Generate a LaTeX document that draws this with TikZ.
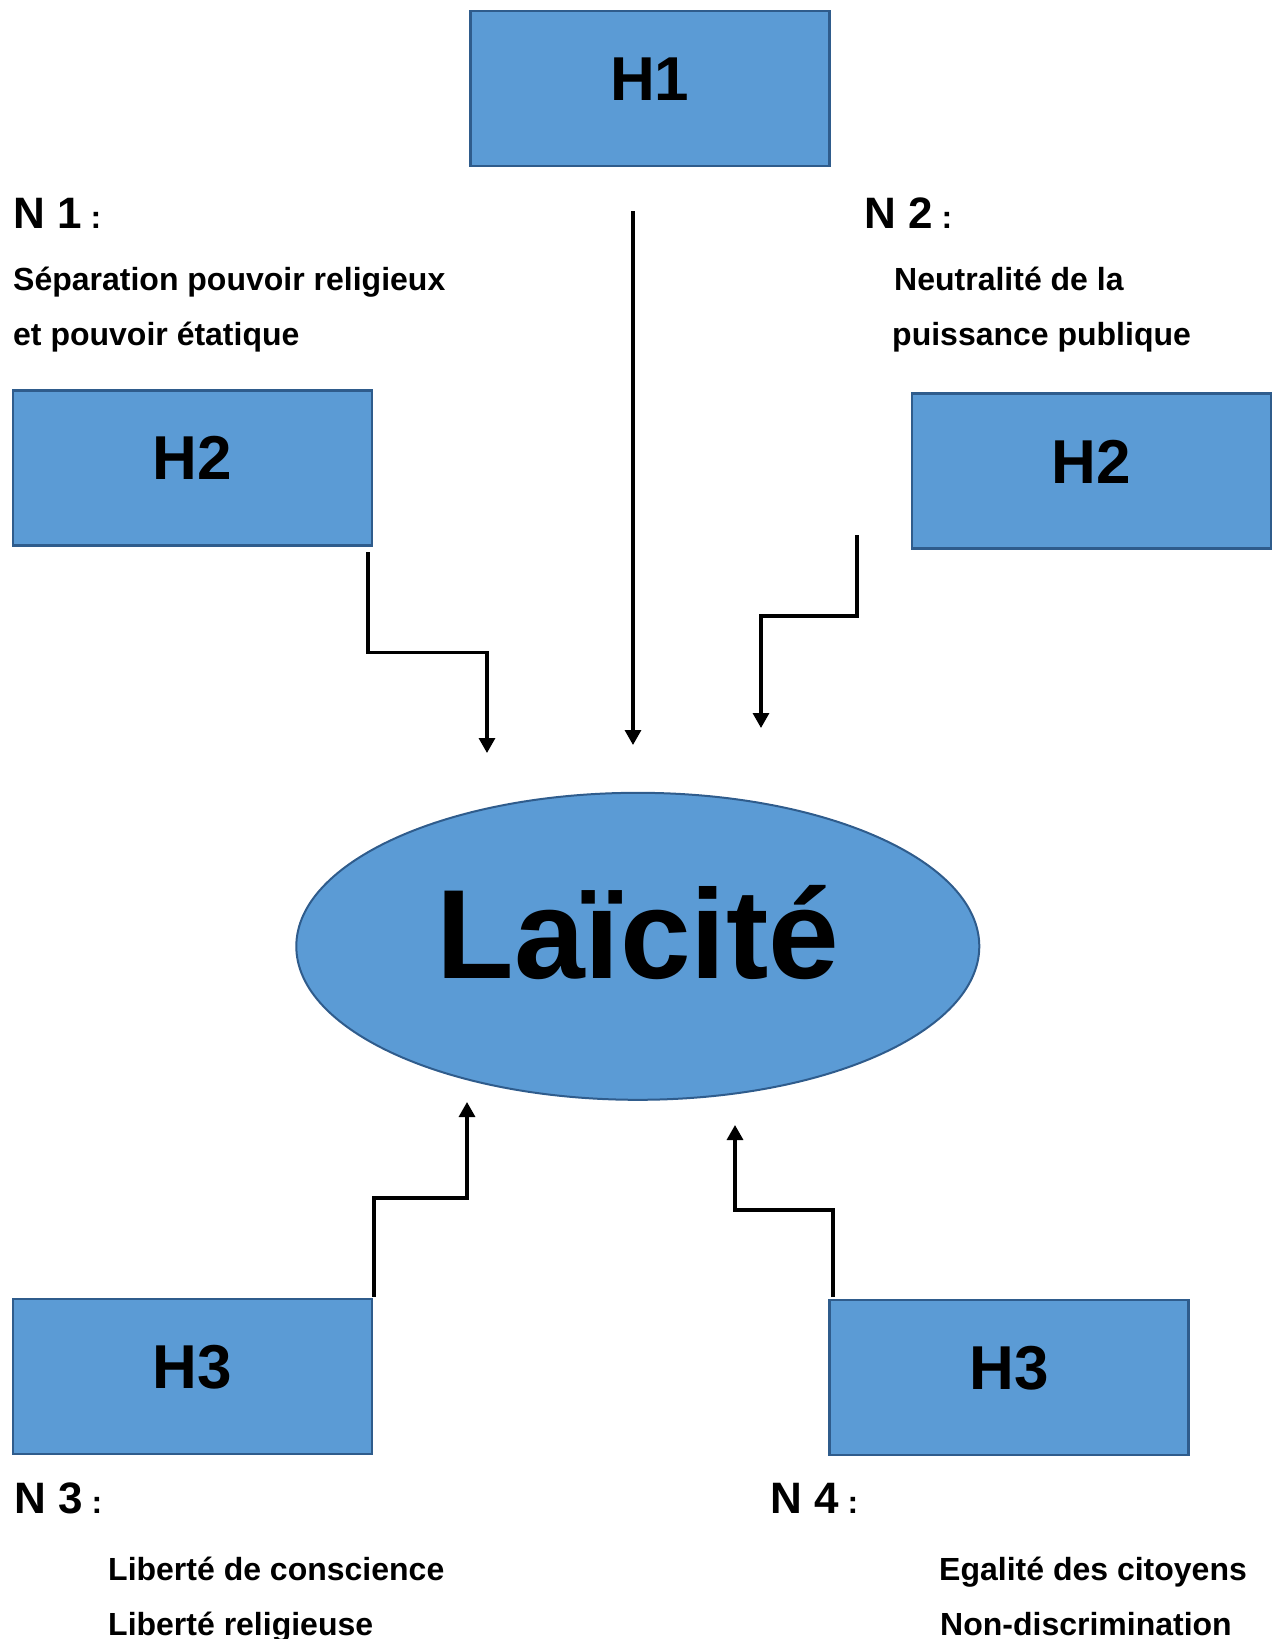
\documentclass[tikz,border=0pt]{standalone}
\usepackage{fontspec}
\setmainfont{Liberation Sans}
\usepackage{tikz}
\usetikzlibrary{positioning, shapes.geometric, arrows.meta}
\definecolor{boxblue}{HTML}{5B9BD5}
\definecolor{boxline}{HTML}{2F5C8C}

\tikzset{
  hbox/.style={draw=boxline, fill=boxblue, line width=2.5pt, minimum width=359pt, minimum height=155pt,
    inner sep=0pt, font=\fontsize{62}{62}\selectfont\bfseries, text height=44pt, text depth=20pt},
  bigoval/.style={ellipse, draw=boxline, fill=boxblue, line width=2pt, minimum width=683pt, minimum height=307pt,
    inner sep=0pt, font=\fontsize{127}{127}\selectfont\bfseries, text height=91pt, text depth=26pt},
  ntitle/.style={anchor=base west, inner sep=0pt, font=\bfseries},
  ntext/.style={anchor=base west, inner sep=0pt, font=\fontsize{32}{32}\selectfont\bfseries},
  link/.style={line width=3.2pt, -{Triangle[width=16pt,length=15pt]}}
}
\newcommand{\ntag}[1]{{\fontsize{44}{44}\selectfont N #1}{\fontsize{32}{32}\selectfont\ :}}

\begin{document}
\begin{tikzpicture}[x=1pt, y=-1pt]
        \useasboundingbox (0,0) rectangle (1285,1639);

        % boxes and the oval
        \node[hbox] (h1) at (649.8,88.4) {H1};
        \node[hbox] (h2l) at (192.3,467.9) {H2};
        \node[hbox] (h2r) at (1091.6,471) {H2};
        \node[hbox] (h3l) at (192.3,1376.5) {H3};
        \node[hbox] (h3r) at (1009,1377.6) {H3};
        \node[bigoval] (laic) at (637.8,946.3) {Laïcité};

        % notes
        \node[ntitle] (n1) at (13,228) {\ntag{1}};
        \node[ntext] (n1a) at (13,290) {Séparation pouvoir religieux};
        \node[ntext] (n1b) at (13,345) {et pouvoir étatique};
        \node[ntitle] (n2) at (864,228) {\ntag{2}};
        \node[ntext] (n2a) at (894,290) {Neutralité de la};
        \node[ntext] (n2b) at (892,345) {puissance publique};
        \node[ntitle] (n3) at (14,1513) {\ntag{3}};
        \node[ntext] (n3a) at (108,1580) {Liberté de conscience};
        \node[ntext] (n3b) at (108,1635) {Liberté religieuse};
        \node[ntitle] (n4) at (770,1513) {\ntag{4}};
        \node[ntext] (n4a) at (939,1580) {Egalité des citoyens};
        \node[ntext] (n4b) at (940,1635) {Non-discrimination};

        % free ends of the arrows
        \coordinate (a1s) at (633,211);
        \coordinate (a1e) at (633,745);
        \coordinate (a2s) at (368,552);
        \coordinate (a2e) at (487,753);
        \coordinate (a3s) at (857,535);
        \coordinate (a3e) at (761,728);
        \coordinate (a4s) at (374,1297);
        \coordinate (a4e) at (467,1102);
        \coordinate (a5s) at (833,1297);
        \coordinate (a5e) at (735,1125);

        \draw[link] (a1s) -- (a1e); % from H1
        \draw[link] (a2s) |- (427,652.7) -| (a2e); % from left H2
        \draw[link] (a3s) |- (800,616) -| (a3e); % from right H2
        \draw[link] (a4s) |- (420,1198) -| (a4e); % from left H3
        \draw[link] (a5s) |- (790,1210) -| (a5e); % from right H3
    \end{tikzpicture}
\end{document}
